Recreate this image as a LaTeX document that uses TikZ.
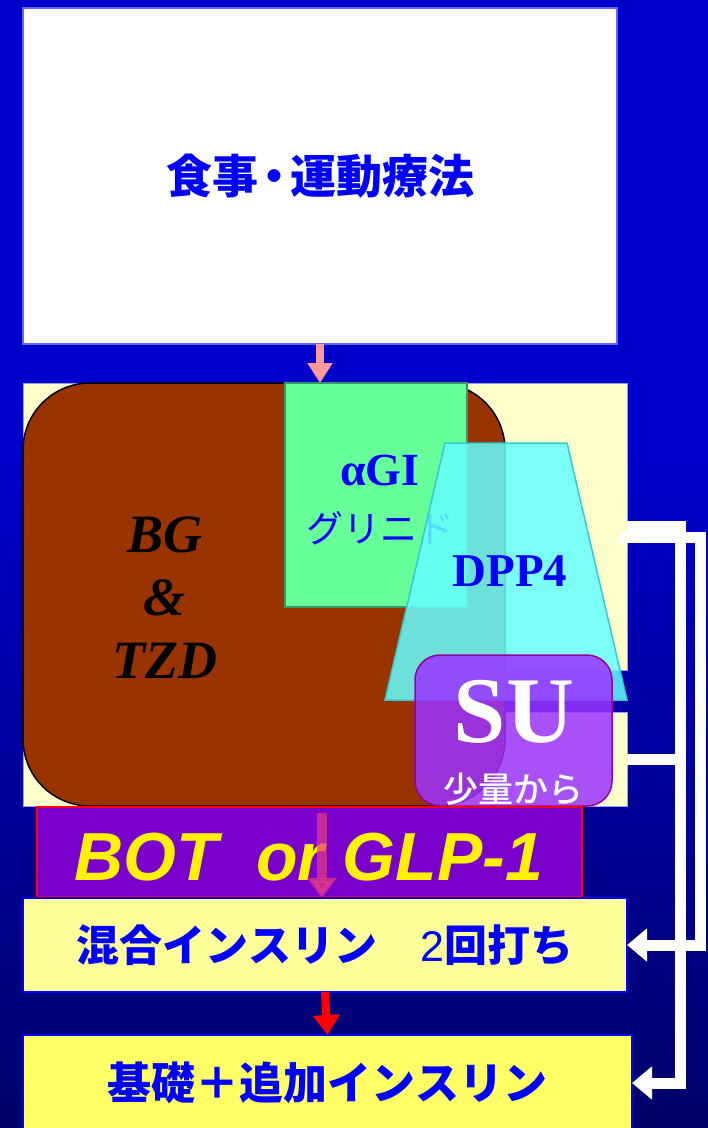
\documentclass[tikz,border=0pt]{standalone}
\usepackage{fontspec}
\setmainfont{Liberation Serif}
\newfontfamily\jpfont{Noto Sans CJK JP}[BoldFont={Noto Sans CJK JP Black}]
\newfontfamily\jpmid{Noto Sans CJK JP Medium}
\newfontfamily\popfont{Liberation Sans}
\usetikzlibrary{arrows.meta}

\definecolor{bgtop}{RGB}{0,0,204}
\definecolor{bgbottom}{RGB}{0,0,104}
\definecolor{cream}{RGB}{255,255,204}
\definecolor{rust}{RGB}{153,51,0}
\definecolor{mint}{RGB}{102,255,153}
\definecolor{mintline}{RGB}{51,153,102}
\definecolor{aqua}{RGB}{102,255,255}
\definecolor{aqualine}{RGB}{51,204,204}
\definecolor{violet}{RGB}{153,51,255}
\definecolor{violetline}{RGB}{153,0,153}
\definecolor{botfill}{RGB}{122,0,204}
\definecolor{mixfill}{RGB}{255,255,153}
\definecolor{basalfill}{RGB}{255,255,102}
\definecolor{salmon}{RGB}{255,153,153}
\definecolor{glparrow}{RGB}{230,60,130}
\definecolor{txtblue}{RGB}{0,0,255}

\begin{document}
\begin{tikzpicture}[x=1pt, y=-1pt,
		box/.style={draw=blue, line width=1.5, inner sep=0, outer sep=0},
		jp/.style={font=\jpfont\bfseries\fontsize{#1}{#1}\selectfont, text=txtblue},
		feed/.style={draw=white, line width=11, -{Triangle[length=20pt,width=32pt]}},
	]
		\useasboundingbox (0,0) rectangle (708,1128);
		%background
		\fill[bgtop] (0,0) rectangle (708,450);
		\shade[top color=bgtop, bottom color=bgbottom] (0,449) rectangle (708,1128);
		
		%diet and exercise
		\node[box, draw=blue!60, fill=white, minimum width=594, minimum height=336, jp=46] (diet) at (320,176) {食事\kern-7pt・\kern-7pt運動療法};
		
		%oral drugs
		\node[box, draw=blue!40, line width=1, fill=cream, minimum width=604, minimum height=287] (oral) at (325,526.5) {};
		\node[box, draw=blue!40, line width=1, fill=cream, minimum width=604, minimum height=94] (orallow) at (325,759) {};
		\draw[line width=8, salmon, -{Triangle[length=20pt,width=24pt]}] (diet.south) -- (diet.south |- oral.north);
		
		\node[draw=black, line width=1.5, fill=rust, rounded corners=67, minimum width=482, minimum height=423] (bg) at (264,594.5) {};
		\node[font=\bfseries\itshape\fontsize{54}{63}\selectfont, align=center] (bgtext) at (165,598) {BG\\\&\\TZD};
		
		\node[draw=mintline, line width=1.5, fill=mint, minimum width=182, minimum height=224] (agi) at (376,495) {};
		\node[align=center, text=txtblue, font=\fontsize{46}{57}\selectfont] (agitext) at (380,500) {{\bfseries αGI}\\{\jpfont\fontsize{37}{37}\selectfont グリニド}};
		
		%DPP4 trapezoid
		\coordinate (dtl) at (445,443);
		\coordinate (dtr) at (567,443);
		\coordinate (dbr) at (627,700);
		\coordinate (dbl) at (385,700);
		\filldraw[draw=aqualine, line width=1.5, fill=aqua, fill opacity=0.85] (dtl) -- (dtr) -- (dbr) -- (dbl) -- cycle;
		\node[text=txtblue, font=\bfseries\fontsize{47}{47}\selectfont] (dpp) at (510,571) {DPP4};
		
		\node[draw=violetline, line width=1.5, fill=violet, fill opacity=0.85, rounded corners=25, minimum width=197, minimum height=151] (su) at (513.5,730.5) {};
		\node[text=white, font=\bfseries\fontsize{94}{94}\selectfont] (sutext) at (514,712) {SU};
		\node[text=white, font=\jpmid\fontsize{35}{35}\selectfont] (sulow) at (513,789) {少量から};
		
		%injections
		\node[draw=red, line width=2, fill=botfill, minimum width=545, minimum height=90] (bot) at (309.5,852) {};
		\node[text=yellow, font=\popfont\bfseries\itshape\fontsize{68}{68}\selectfont] (bottext) at (309,857) {BOT\ \ or GLP-1};
		\coordinate (glp) at (322,813);
		\draw[line width=10, glparrow, opacity=0.7, -{Triangle[length=20pt,width=28pt]}] (glp) -- (glp |- bot.south);
		
		\node[box, fill=mixfill, minimum width=604, minimum height=94, jp=43] (mix) at (325,945) {混合インスリン\quad{\popfont\mdseries 2}回打ち};
		\node[box, fill=basalfill, minimum width=609, minimum height=96, jp=44] (basal) at (327.5,1083) {基礎＋追加インスリン};
		\draw[line width=8, red, -{Triangle[length=20pt,width=26pt]}] (mix.south) -- (basal.north);
		
		%back-up paths
		\draw[feed] (oral.east) -- ++(53,0) |- (basal.east);
		\draw[feed] ([xshift=-7pt,yshift=-11pt]oral.east) -- ++(80,0) |- (mix.east);
		\draw[draw=white, line width=11] (orallow.east) -- ++(53,0);
\end{tikzpicture}
\end{document}
